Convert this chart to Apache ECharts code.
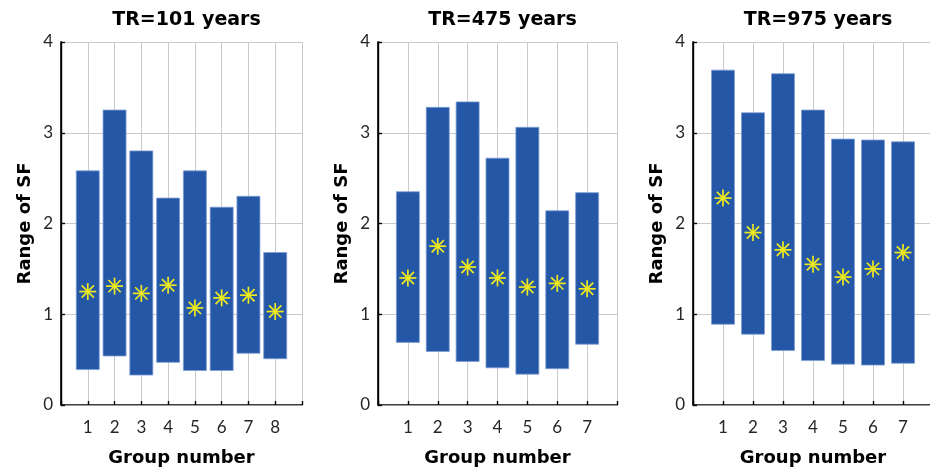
<!DOCTYPE html>
<html>
<head>
<meta charset="utf-8">
<script src="https://cdn.jsdelivr.net/npm/echarts@6/dist/echarts.min.js"></script>
<style>
  html, body { margin: 0; padding: 0; background: #fff; }
  #main { width: 930px; height: 470px; }
</style>
</head>
<body>
<div id="main"></div>
<script>
// data
var titles = ['TR=101 years', 'TR=475 years', 'TR=975 years'];
var yTicks = [0, 1, 2, 3, 4];

var groups1 = [1, 2, 3, 4, 5, 6, 7, 8];
var low1 = [0.39, 0.54, 0.33, 0.47, 0.38, 0.38, 0.57, 0.51];
var high1 = [2.58, 3.25, 2.80, 2.28, 2.58, 2.18, 2.30, 1.68];
var mean1 = [1.25, 1.31, 1.23, 1.32, 1.07, 1.18, 1.21, 1.03];

var groups2 = [1, 2, 3, 4, 5, 6, 7];
var low2 = [0.69, 0.59, 0.48, 0.41, 0.34, 0.40, 0.67];
var high2 = [2.35, 3.28, 3.34, 2.72, 3.06, 2.14, 2.34];
var mean2 = [1.40, 1.75, 1.52, 1.40, 1.30, 1.34, 1.28];

var groups3 = [1, 2, 3, 4, 5, 6, 7];
var low3 = [0.89, 0.78, 0.60, 0.49, 0.45, 0.44, 0.46];
var high3 = [3.69, 3.22, 3.65, 3.25, 2.93, 2.92, 2.90];
var mean3 = [2.28, 1.90, 1.71, 1.55, 1.41, 1.50, 1.68];

var panels = [
  { g: groups1, lo: low1, hi: high1, m: mean1 },
  { g: groups2, lo: low2, hi: high2, m: mean2 },
  { g: groups3, lo: low3, hi: high3, m: mean3 }
];

var FONT = 'Lato';
var BOLD = 'DejaVu Sans';
var BAR = '#2457a6';
var STAR = '#eeea1e';

// 外框位置
var boxes = [
  { left: 61, width: 241 },
  { left: 378, width: 239 },
  { left: 693, width: 240 }
];

function renderBar(params, api) {
  var x = api.value(0);
  var top = api.coord([x, api.value(2)]);
  var bot = api.coord([x, api.value(1)]);
  var w = 23;
  return {
    type: 'rect',
    shape: { x: top[0] - w / 2, y: top[1], width: w, height: bot[1] - top[1] },
    style: { fill: BAR, stroke: '#7d9dd6', lineWidth: 0.8 }
  };
}

function renderStar(params, api) {
  var p = api.coord([api.value(0), api.value(1)]);
  var r = 8.5, d = r * 0.72;
  var segs = [[-r, 0, r, 0], [0, -r, 0, r], [-d, -d, d, d], [-d, d, d, -d]];
  return {
    type: 'group',
    children: segs.map(function (s) {
      return {
        type: 'line',
        shape: { x1: p[0] + s[0], y1: p[1] + s[1], x2: p[0] + s[2], y2: p[1] + s[3] },
        style: { stroke: STAR, lineWidth: 1.7 }
      };
    })
  };
}

var grid = [], xAxis = [], yAxis = [], series = [], title = [];

panels.forEach(function (pn, i) {
  var n = pn.g.length;
  var xmax = n + 1;
  grid.push({
    left: boxes[i].left, width: boxes[i].width, top: 42, height: 363,
    outerBoundsMode: 'none', containLabel: false
  });
  title.push({
    text: titles[i],
    left: boxes[i].left + boxes[i].width / 2,
    textAlign: 'center',
    top: 6,
    textStyle: { fontFamily: BOLD, fontWeight: 'bold', fontSize: 19, color: '#000' }
  });
  xAxis.push({
    type: 'value', gridIndex: i, min: 0, max: xmax, interval: 1,
    name: 'Group number', nameLocation: 'middle', nameGap: 44,
    nameTextStyle: { fontFamily: BOLD, fontWeight: 'bold', fontSize: 18, color: '#000' },
    axisLine: { lineStyle: { color: '#000', width: 1.6 } },
    axisTick: { inside: true, length: 4, lineStyle: { color: '#000', width: 1.4 } },
    axisLabel: {
      fontFamily: FONT, fontSize: 17, color: '#262626', margin: 14,
      formatter: function (v) { return (v >= 1 && v <= n) ? String(v) : ''; }
    },
    splitLine: { show: true, lineStyle: { color: '#cacaca', width: 1 } }
  });
  yAxis.push({
    type: 'value', gridIndex: i, min: yTicks[0], max: yTicks[yTicks.length - 1], interval: 1,
    name: 'Range of SF', nameLocation: 'middle', nameGap: 27,
    nameTextStyle: { fontFamily: BOLD, fontWeight: 'bold', fontSize: 18, color: '#000' },
    axisLine: { show: true, lineStyle: { color: '#000', width: 1.6 } },
    axisTick: { show: true, inside: true, length: 4, lineStyle: { color: '#000', width: 1.4 } },
    axisLabel: { fontFamily: FONT, fontSize: 17, color: '#262626', margin: 8 },
    splitLine: { show: true, lineStyle: { color: '#cacaca', width: 1 } }
  });
  series.push({
    type: 'custom', xAxisIndex: i, yAxisIndex: i, renderItem: renderBar,
    data: pn.g.map(function (g, k) { return [g, pn.lo[k], pn.hi[k]]; }),
    z: 2
  });
  series.push({
    type: 'custom', xAxisIndex: i, yAxisIndex: i, renderItem: renderStar,
    data: pn.g.map(function (g, k) { return [g, pn.m[k]]; }),
    z: 3
  });
});

// 上边和右边的框线
panels.forEach(function (pn, i) {
  xAxis.push({
    type: 'value', gridIndex: i, position: 'top', min: 0, max: pn.g.length + 1,
    axisLine: { show: true, lineStyle: { color: '#9a9a9a', width: 1.2 } },
    axisTick: { show: false }, axisLabel: { show: false }, splitLine: { show: false }
  });
  yAxis.push({
    type: 'value', gridIndex: i, position: 'right', min: 0, max: 4,
    axisLine: { show: true, lineStyle: { color: '#000', width: 1.4 } },
    axisTick: { show: false }, axisLabel: { show: false }, splitLine: { show: false }
  });
});

var myChart = echarts.init(document.getElementById('main'));
myChart.setOption({
  animation: false,
  backgroundColor: '#fff',
  title: title,
  grid: grid,
  xAxis: xAxis,
  yAxis: yAxis,
  series: series
});
</script>
</body>
</html>
